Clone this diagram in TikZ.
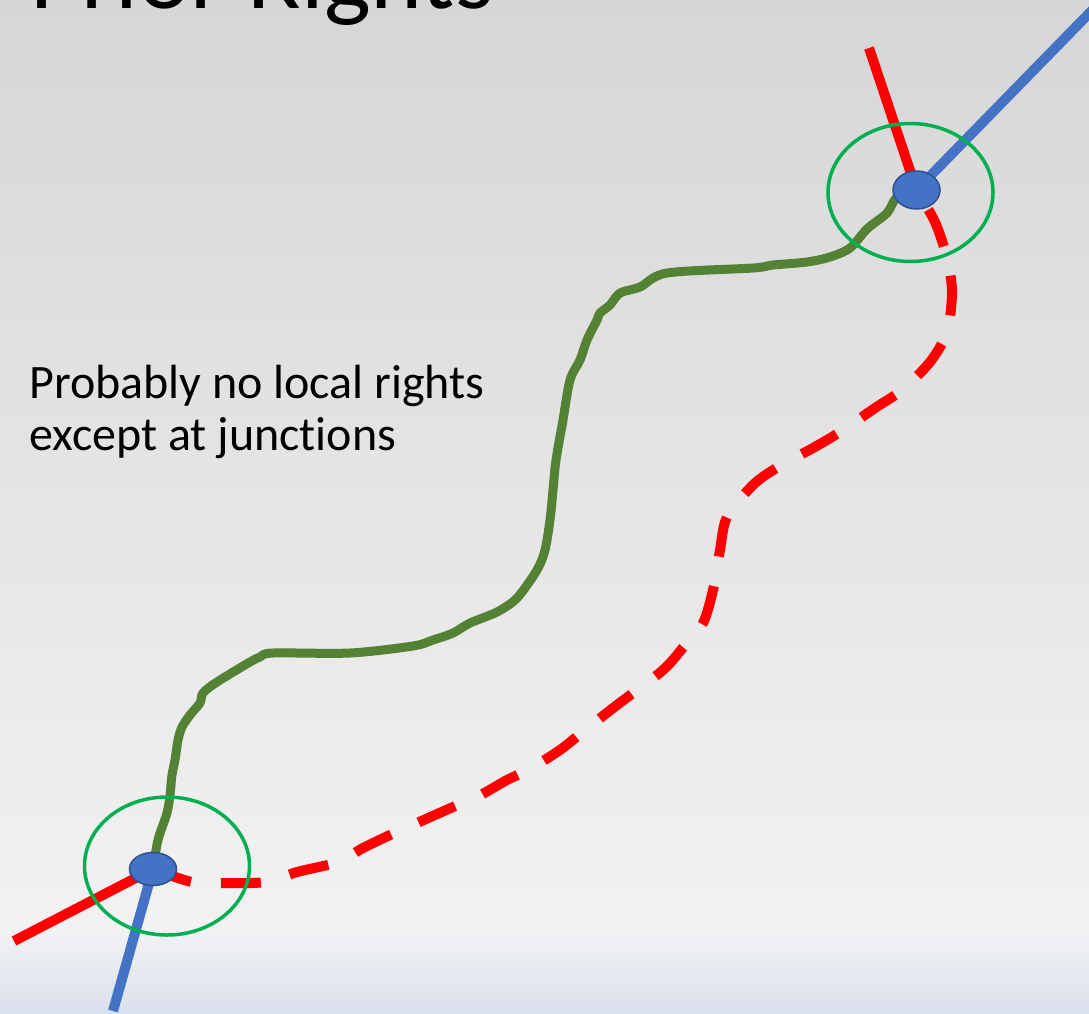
\documentclass[tikz,border=0pt]{standalone}
\usepackage{fontspec}
\setmainfont{Carlito}[Ligatures=NoCommon]
\usetikzlibrary{shapes.geometric}
\pgfdeclarelayer{bg}
\pgfsetlayers{bg,main}
\definecolor{bgtop}{RGB}{214,214,214}
\definecolor{bgmid}{RGB}{242,242,242}
\definecolor{bandtop}{RGB}{240,241,243}
\definecolor{bandbot}{RGB}{218,224,236}
\definecolor{roadred}{RGB}{255,0,0}
\definecolor{roadblue}{RGB}{68,114,196}
\definecolor{nodeedge}{RGB}{47,82,143}
\definecolor{ringgreen}{RGB}{0,176,80}
\definecolor{pathgreen}{RGB}{84,130,53}
\begin{document}
\begin{tikzpicture}[x=1pt,y=-1pt,
  junction/.style={ellipse, fill=roadblue, draw=nodeedge, line width=1.5pt, minimum width=47pt, inner sep=0pt},
  ring/.style={ellipse, draw=ringgreen, line width=3.5pt, minimum width=165pt, minimum height=138pt, inner sep=0pt},
  redroad/.style={draw=roadred, line width=10pt},
  blueroad/.style={draw=roadblue, line width=10pt},
  greenpath/.style={draw=pathgreen, line width=9pt, line join=round, line cap=round},
  label/.style={anchor=base west, inner sep=0pt, align=left, text=black}
]
\useasboundingbox (0,0) rectangle (1089,1013);
\clip (0,0) rectangle (1089,1013);

% title (cut off by the top edge, as in the original)
\node[label, font=\fontsize{99}{116}\selectfont] (title) at (30,8) {Prior Rights};
% note (base anchor = baseline of the last line)
\node[label, font=\fontsize{48}{52}\selectfont] (note) at (29,450) {Probably no local rights\\except at junctions};

% rings and junctions
\node[ring] (R1) at (167,866) {};
\node[ring] (R2) at (910.5,192.5) {};
\node[junction, minimum height=33pt] (J1) at (153,869) {};
\node[junction, minimum height=38pt] (J2) at (916.5,190) {};

% free ends
\coordinate (redA) at (14,941);
\coordinate (blueA) at (113,1011);
\coordinate (redB) at (869,48);
\coordinate (blueB) at (1110,-8);

\begin{pgfonlayer}{bg}
\shade[top color=bgtop, bottom color=bgmid] (0,0) rectangle (1089,935);
\shade[top color=bandtop, bottom color=bandbot] (0,935) rectangle (1089,1013);
\path[redroad] (redA) -- (J1.center);
\path[blueroad] (blueA) -- (J1.center);
\path[redroad] (redB) -- (J2.center);
\path[blueroad] (blueB) -- (J2.center);
% wiggly green route
\path[greenpath] plot[smooth, tension=0.5] coordinates {
 (J1.center) (158,840) (167,813) (170,795) (172,775) (175,760) (178,740) (182,727) (190,715)
 (200,703) (203,693) (217,682) (250,662) (260,657) (273,653) (350,653)
 (413,646) (433,640) (453,633) (470,623) (497,612) (517,598) (537,570)
 (545,550) (550,520) (553,490) (556,460) (563,420) (570,380) (580,360)
 (587,340) (597,320) (600,313) (610,305) (620,293) (640,287) (667,273)
 (753,268) (773,265) (807,262) (830,257) (850,248) (867,229) (887,213)
 (897,197) (J2.center)};
% dashed red route
\path[redroad, dash pattern=on 40pt off 30pt] plot[smooth, tension=0.5] coordinates {
 (J1.center) (192,882) (223,883) (266,882) (297,872) (338,862) (363,848)
 (390,835) (417,823) (453,807) (477,797) (507,780) (528,770) (560,750)
 (585,730) (617,705) (663,670) (685,645) (703,623) (713,590) (720,550)
 (727,517) (753,485) (778,467) (813,448) (840,432) (875,408) (902,390)
 (930,362) (947,332) (952,292) (947,258) (935,222) (J2.center)};
\end{pgfonlayer}
\end{tikzpicture}
\end{document}
